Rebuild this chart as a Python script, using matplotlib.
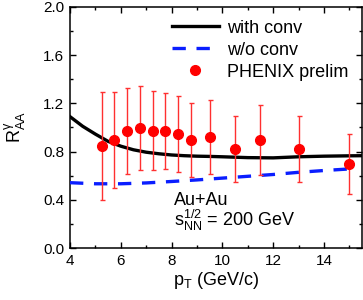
import matplotlib
matplotlib.use("Agg")
import matplotlib.pyplot as plt
from matplotlib.ticker import MultipleLocator

plt.rcParams['font.family'] = ['Liberation Sans', 'DejaVu Sans']
plt.rcParams['mathtext.fontset'] = 'custom'
plt.rcParams['mathtext.rm'] = 'Liberation Sans'
plt.rcParams['mathtext.it'] = 'Liberation Sans:italic'
plt.rcParams['mathtext.default'] = 'regular'

# PHENIX preliminary data
pt_data = [5.25, 5.75, 6.25, 6.75, 7.25, 7.75, 8.25, 8.75, 9.5, 10.5, 11.5, 13.0, 15.0]
raa_data = [0.844, 0.896, 0.974, 0.996, 0.971, 0.971, 0.946, 0.896, 0.918, 0.819, 0.896, 0.819, 0.697]
raa_hi = [1.295, 1.295, 1.33, 1.347, 1.30, 1.29, 1.26, 1.206, 1.228, 1.093, 1.187, 1.093, 0.946]
raa_lo = [0.396, 0.495, 0.61, 0.647, 0.647, 0.656, 0.628, 0.587, 0.61, 0.545, 0.603, 0.55, 0.446]

# with conversion curve
pt_conv = [4.0, 4.5, 5.0, 5.5, 6.0, 6.5, 7.0, 7.5, 8.0, 8.5, 9.0, 9.5, 10.0, 11.0, 12.0, 13.0, 14.0, 15.0, 15.5]
raa_conv = [1.09, 1.01, 0.945, 0.885, 0.845, 0.815, 0.795, 0.782, 0.772, 0.766, 0.762, 0.760, 0.757, 0.750, 0.748, 0.757, 0.762, 0.765, 0.766]

# without conversion curve
pt_noconv = [4.0, 5.0, 6.0, 7.0, 8.0, 9.0, 10.0, 11.0, 12.0, 13.0, 14.0, 15.0, 15.3]
raa_noconv = [0.542, 0.533, 0.533, 0.540, 0.552, 0.565, 0.580, 0.595, 0.610, 0.628, 0.643, 0.656, 0.661]

fig = plt.figure(figsize=(3.63, 3.00), dpi=100)
ax = fig.add_axes([70/363, 1-248/300, 292/363, 241/300])

ax.plot(pt_conv, raa_conv, color='black', lw=2.4, label='with conv', zorder=3)
ax.plot(pt_noconv, raa_noconv, color='#0a1eff', lw=2.4, dashes=(4, 3.2), label='w/o conv', zorder=3)
yerr = [[y - lo for y, lo in zip(raa_data, raa_lo)], [hi - y for y, hi in zip(raa_data, raa_hi)]]
ax.errorbar(pt_data, raa_data, yerr=yerr, fmt='none', ecolor='#ff3030', elinewidth=1.0,
            capsize=1.8, capthick=1.0, zorder=4)
ax.plot(pt_data, raa_data, 'o', color='#ff0000', ms=7, mec='#ff0000', ls='none',
        label='PHENIX prelim', zorder=5)

ax.set_xlim(4, 15.5)
ax.set_ylim(0, 2.0)
ax.xaxis.set_major_locator(MultipleLocator(2))
ax.xaxis.set_minor_locator(MultipleLocator(1))
ax.yaxis.set_major_locator(MultipleLocator(0.4))
ax.yaxis.set_minor_locator(MultipleLocator(0.2))
ax.yaxis.set_major_formatter(matplotlib.ticker.FormatStrFormatter('%.1f'))
ax.tick_params(which='both', direction='in', top=True, right=True, labelsize=11, width=1.0)
ax.tick_params(which='major', length=4, pad=4)
ax.tick_params(which='minor', length=2.5)
for s in ax.spines.values():
    s.set_linewidth(1.1)

ax.set_xlabel('p$_T$ (GeV/c)', fontsize=13, labelpad=2)
ax.set_ylabel(r'R$^{\gamma}_{AA}$', fontsize=13, labelpad=11)

ax.text(8.1, 0.36, 'Au+Au', fontsize=13, va='baseline', ha='left')
ax.text(8.1, 0.18, r's$^{1/2}_{NN}$ = 200 GeV', fontsize=13, va='baseline', ha='left')

ax.legend(loc='upper left', bbox_to_anchor=(0.349, 0.948), frameon=False, fontsize=13,
          handlelength=2.6, handletextpad=0.45, labelspacing=0.28, borderpad=0,
          borderaxespad=0, numpoints=1)

fig.savefig('out.png', dpi=100)
